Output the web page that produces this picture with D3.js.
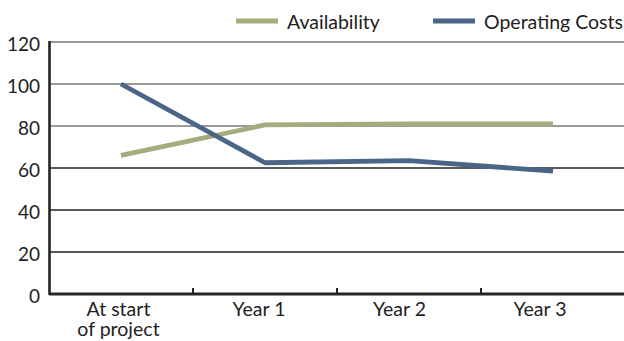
<!DOCTYPE html>
<html>
<head>
<meta charset="utf-8">
<script src="https://cdn.jsdelivr.net/npm/d3@7"></script>
<style>
  html, body { margin: 0; padding: 0; background: #fff; }
  svg { display: block; font-family: Lato, "Open Sans", sans-serif; }
</style>
</head>
<body>
<svg id="chart" width="624" height="341"></svg>
<script>
// Categories along the x axis (multi-line labels split on "\n")
const categories = ["At start\nof project", "Year 1", "Year 2", "Year 3"];
// Series values
const availability = [66, 80.5, 81, 81];
const operatingCosts = [100, 62.5, 63.5, 58.5];
// Y axis ticks
const yTicks = [0, 20, 40, 60, 80, 100, 120];

const series = [
  { name: "Availability", values: availability, color: "#a4ac7c" },
  { name: "Operating Costs", values: operatingCosts, color: "#4a6587" }
];

const svg = d3.select("#chart");
const W = 624, H = 341;
const margin = { top: 42, right: 0, bottom: 47, left: 49 };
const plotRight = W - margin.right;
const plotBottom = H - margin.bottom;

const x = d3.scaleBand().domain(categories).range([margin.left, plotRight + 1]).padding(0);
const xLabel = d3.scalePoint().domain(categories).range([118.5, 540]);
const y = d3.scaleLinear().domain([0, 120]).range([plotBottom, margin.top]);

const fontSize = 19.5;
const textColor = "#1e1e1e";

// Horizontal gridlines
svg.append("g").selectAll("line")
  .data(yTicks.filter(d => d > 0))
  .join("line")
  .attr("x1", margin.left).attr("x2", plotRight)
  .attr("y1", d => y(d)).attr("y2", d => y(d))
  .attr("stroke", d => d >= 80 ? "#7a7a7a" : "#222")
  .attr("stroke-width", 1.3);

// Y axis labels
svg.append("g").selectAll("text")
  .data(yTicks)
  .join("text")
  .attr("x", 40)
  .attr("y", d => y(d) + 4)
  .attr("text-anchor", "end")
  .attr("dominant-baseline", "middle")
  .attr("font-size", 19)
  .attr("fill", textColor)
  .text(d => d);

// Left axis line
svg.append("line")
  .attr("x1", margin.left + 0.5).attr("x2", margin.left + 0.5)
  .attr("y1", margin.top - 1).attr("y2", plotBottom + 1)
  .attr("stroke", "#222").attr("stroke-width", 2.6);

// Bottom axis: baseline and inward ticks at category boundaries
svg.append("line")
  .attr("x1", margin.left).attr("x2", plotRight)
  .attr("y1", plotBottom).attr("y2", plotBottom)
  .attr("stroke", "#262626").attr("stroke-width", 3);

svg.append("g").selectAll("line")
  .data(categories.slice(1))
  .join("line")
  .attr("x1", d => x(d)).attr("x2", d => x(d))
  .attr("y1", plotBottom).attr("y2", plotBottom - 6)
  .attr("stroke", "#262626").attr("stroke-width", 2);

// Category labels
const xl = svg.append("g").selectAll("text")
  .data(categories)
  .join("text")
  .attr("x", d => xLabel(d))
  .attr("y", 316)
  .attr("text-anchor", "middle")
  .attr("font-size", fontSize)
  .attr("fill", textColor);
xl.selectAll("tspan")
  .data(d => d.split("\n").map(t => ({ t, key: d })))
  .join("tspan")
  .attr("x", d => xLabel(d.key))
  .attr("dy", (d, i) => i === 0 ? 0 : 20)
  .text(d => d.t);

// Series lines
const line = d3.line()
  .x((d, i) => x(categories[i]) + x.bandwidth() / 2)
  .y(d => y(d));

svg.append("g").selectAll("path")
  .data(series)
  .join("path")
  .attr("d", s => line(s.values))
  .attr("fill", "none")
  .attr("stroke", s => s.color)
  .attr("stroke-width", 4.8)
  .attr("stroke-linejoin", "round");

// Legend
const legendPos = [{ sx: 236, tx: 287 }, { sx: 433, tx: 484 }];
const lg = svg.append("g").selectAll("g")
  .data(series)
  .join("g");
lg.append("line")
  .attr("x1", (d, i) => legendPos[i].sx).attr("x2", (d, i) => legendPos[i].sx + 42)
  .attr("y1", 21).attr("y2", 21)
  .attr("stroke", d => d.color).attr("stroke-width", 5);
lg.append("text")
  .attr("x", (d, i) => legendPos[i].tx)
  .attr("y", 29)
  .attr("font-size", fontSize)
  .attr("fill", textColor)
  .text(d => d.name);
</script>
</body>
</html>
